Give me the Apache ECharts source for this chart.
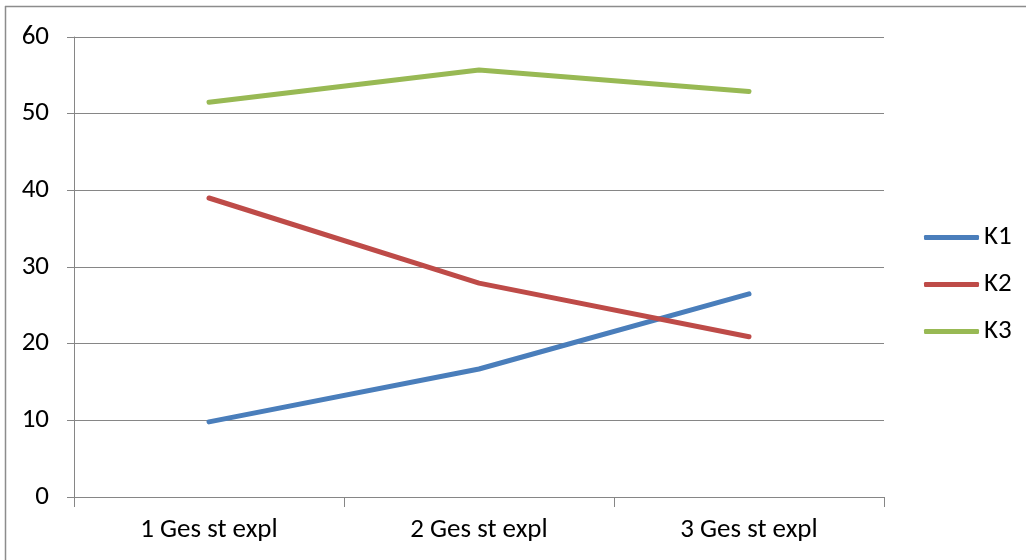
<!DOCTYPE html>
<html><head><meta charset="utf-8">
<script src="https://cdn.jsdelivr.net/npm/echarts@6/dist/echarts.min.js"></script>
<style>html,body{margin:0;padding:0;background:#fff}#c{width:1026px;height:560px}</style>
</head><body><div id="c"></div>
<script>
const categories = ['1 Ges st expl', '2 Ges st expl', '3 Ges st expl'];
const seriesNames = ['K1', 'K2', 'K3'];
const k1 = [9.8, 16.7, 26.5];
const k2 = [39.0, 27.9, 20.9];
const k3 = [51.5, 55.7, 52.9];
const yTicks = [0, 10, 20, 30, 40, 50, 60];
const colors = ['#4A7EBB', '#BE4B48', '#98B954'];
const values = [k1, k2, k3];

const font = 'Calibri, Carlito, "Open Sans", sans-serif';
const chart = echarts.init(document.getElementById('c'), null, {renderer: 'canvas'});
chart.setOption({
  animation: false,
  color: colors,
  grid: {left: 74, right: 142, top: 37, bottom: 63, containLabel: false},
  xAxis: {
    type: 'category', data: categories, boundaryGap: true,
    axisLine: {lineStyle: {color: '#868686', width: 1}},
    axisTick: {show: true, interval: 0, length: 10, lineStyle: {color: '#868686'}},
    axisLabel: {color: '#000', fontSize: 27, fontFamily: font, margin: 20}
  },
  yAxis: {
    type: 'value', min: yTicks[0], max: yTicks[yTicks.length - 1], interval: 10,
    axisLine: {show: true, lineStyle: {color: '#868686', width: 1}},
    axisTick: {show: true, length: 7, lineStyle: {color: '#868686'}},
    axisLabel: {color: '#000', fontSize: 27, fontFamily: font, margin: 25},
    splitLine: {show: true, lineStyle: {color: '#868686', width: 1}}
  },
  legend: {
    orient: 'vertical', left: 924, top: 224, padding: 0,
    itemWidth: 55, itemHeight: 5, itemGap: 20,
    icon: 'roundRect',
    textStyle: {color: '#000', fontSize: 27, lineHeight: 27, fontFamily: font},
    data: seriesNames
  },
  graphic: [
    {type: 'line', shape: {x1: 5, y1: 6.5, x2: 1026, y2: 6.5}, style: {stroke: '#8c8c8c', lineWidth: 1.5}},
    {type: 'line', shape: {x1: 5.5, y1: 6, x2: 5.5, y2: 560}, style: {stroke: '#8c8c8c', lineWidth: 1.5}}
  ],
  series: seriesNames.map((n, i) => ({
    name: n, type: 'line', data: values[i],
    symbol: 'none', showSymbol: false,
    lineStyle: {width: 5, color: colors[i], cap: 'round', join: 'round'}
  }))
});
</script></body></html>
